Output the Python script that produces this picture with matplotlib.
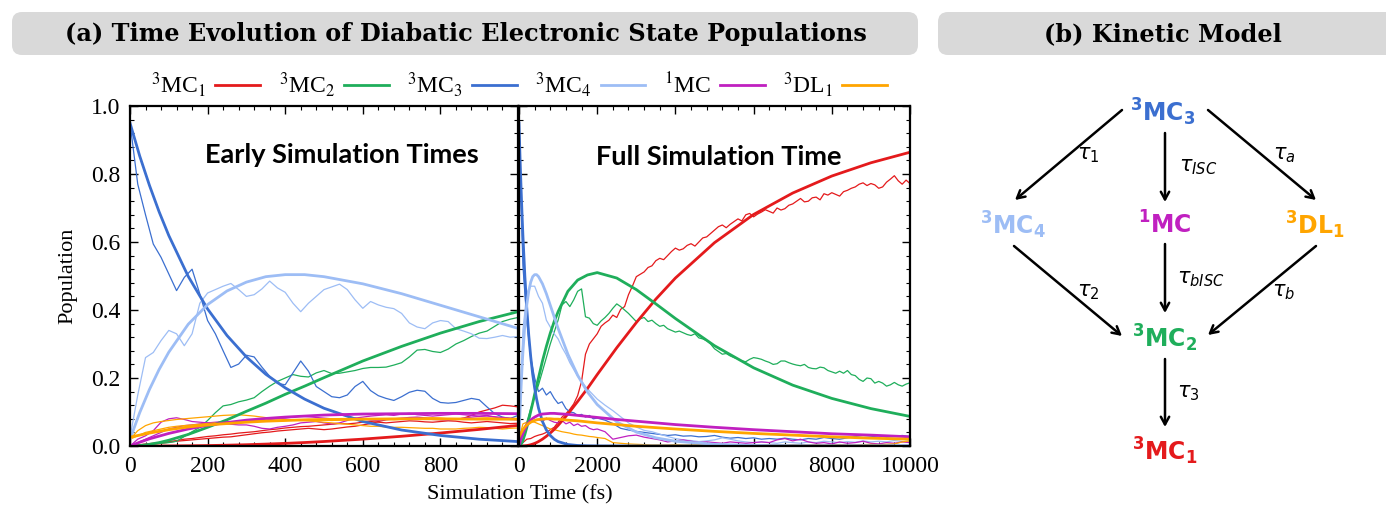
import numpy as np
import matplotlib
matplotlib.use("Agg")
import matplotlib.pyplot as plt
from matplotlib.lines import Line2D
from matplotlib.patches import FancyBboxPatch
from matplotlib.ticker import MultipleLocator, FormatStrFormatter

plt.rcParams['font.family'] = 'serif'
plt.rcParams['font.serif'] = ['Liberation Serif', 'DejaVu Serif']
plt.rcParams['mathtext.fontset'] = 'stix'

# state names and colours
states = ['3MC1', '3MC2', '3MC3', '3MC4', '1MC', '3DL1']
legend_labels = [r'$^{3}$MC$_{1}$', r'$^{3}$MC$_{2}$', r'$^{3}$MC$_{3}$',
                 r'$^{3}$MC$_{4}$', r'$^{1}$MC', r'$^{3}$DL$_{1}$']
colors = {'3MC1': '#e41a1c', '3MC2': '#1fae5b', '3MC3': '#3b6fd0',
          '3MC4': '#9dbdf5', '1MC': '#c020c0', '3DL1': '#ffa500'}

# kinetic model fit (fs)
t_fit = [0, 25, 50, 75, 100, 150, 200, 250, 300, 350, 400, 450, 500, 600, 700, 800,
         900, 1000, 1250, 1500, 1750, 2000, 2500, 3000, 3500, 4000, 5000, 6000,
         7000, 8000, 9000, 10000]
fit_3mc1 = [0, 0, 0, 0, 0.0002, 0.0006, 0.0013, 0.0024, 0.0038, 0.0056, 0.0077, 0.0102,
            0.0132, 0.0202, 0.0286, 0.0382, 0.0488, 0.0606, 0.094, 0.131, 0.169, 0.210,
            0.289, 0.363, 0.432, 0.494, 0.598, 0.681, 0.744, 0.794, 0.833, 0.864]
fit_3mc2 = [0.0, 0.001, 0.005, 0.010, 0.017, 0.034, 0.055, 0.077, 0.102, 0.126, 0.152,
            0.176, 0.201, 0.250, 0.293, 0.332, 0.366, 0.395, 0.455, 0.488, 0.503, 0.510,
            0.494, 0.460, 0.418, 0.375, 0.295, 0.230, 0.179, 0.140, 0.110, 0.087]
fit_3mc3 = [0.950, 0.853, 0.767, 0.689, 0.619, 0.499, 0.403, 0.325, 0.262, 0.211, 0.171,
            0.138, 0.111, 0.072, 0.047, 0.031, 0.020, 0.013, 0.0044, 0.0015, 0.0005,
            0.0002, 0, 0, 0, 0, 0, 0, 0, 0, 0, 0]
fit_3mc4 = [0.020, 0.098, 0.166, 0.225, 0.276, 0.358, 0.416, 0.456, 0.482, 0.498, 0.504,
            0.504, 0.498, 0.477, 0.448, 0.414, 0.380, 0.346, 0.270, 0.208, 0.159, 0.122,
            0.071, 0.041, 0.024, 0.014, 0.005, 0.0015, 0.0005, 0, 0, 0]
fit_1mc = [0.0, 0.011, 0.021, 0.029, 0.037, 0.050, 0.061, 0.069, 0.076, 0.081, 0.085,
           0.088, 0.091, 0.094, 0.095, 0.096, 0.096, 0.095, 0.093, 0.090, 0.087, 0.084,
           0.078, 0.073, 0.068, 0.063, 0.055, 0.048, 0.042, 0.036, 0.032, 0.027]
fit_3dl1 = [0.026, 0.032, 0.038, 0.043, 0.048, 0.056, 0.062, 0.066, 0.070, 0.073, 0.075,
            0.077, 0.078, 0.079, 0.080, 0.080, 0.079, 0.079, 0.076, 0.074, 0.071, 0.068,
            0.063, 0.058, 0.054, 0.050, 0.043, 0.037, 0.032, 0.027, 0.023, 0.020]

# early simulation, populations every 20 fs (two runs for the minor states)
t_early = list(range(0, 1001, 20))
early_3mc1 = [0, 0.002, 0.004, 0.006, 0.008, 0.011, 0.014, 0.016, 0.018, 0.02, 0.022,
              0.024, 0.026, 0.027, 0.03, 0.033, 0.036, 0.039, 0.041, 0.044, 0.046,
              0.048, 0.05, 0.052, 0.05, 0.048, 0.05, 0.053, 0.056, 0.058, 0.062,
              0.066, 0.072, 0.077, 0.079, 0.08, 0.081, 0.082, 0.08, 0.078, 0.077,
              0.077, 0.078, 0.082, 0.09, 0.1, 0.106, 0.112, 0.12, 0.118, 0.115]
early_3mc1_b = [0, 0.003, 0.006, 0.008, 0.01, 0.013, 0.016, 0.02, 0.022, 0.025, 0.028,
                0.03, 0.033, 0.035, 0.038, 0.04, 0.042, 0.045, 0.048, 0.05, 0.053, 0.055,
                0.057, 0.058, 0.06, 0.062, 0.064, 0.066, 0.065, 0.067, 0.07, 0.072, 0.07,
                0.068, 0.07, 0.072, 0.074, 0.073, 0.071, 0.07, 0.072, 0.074, 0.073, 0.07,
                0.068, 0.07, 0.072, 0.07, 0.068, 0.066, 0.067]
early_3mc2 = [0, 0.002, 0.004, 0.006, 0.008, 0.01, 0.014, 0.028, 0.042, 0.055, 0.075,
              0.098, 0.118, 0.122, 0.13, 0.135, 0.142, 0.16, 0.176, 0.19, 0.2, 0.21, 0.205,
              0.203, 0.215, 0.222, 0.213, 0.214, 0.218, 0.222, 0.228, 0.231, 0.231, 0.232,
              0.238, 0.245, 0.262, 0.282, 0.284, 0.278, 0.275, 0.285, 0.3, 0.31, 0.322,
              0.332, 0.338, 0.352, 0.366, 0.373, 0.378]
early_3mc3 = [0.95, 0.77, 0.68, 0.594, 0.555, 0.506, 0.457, 0.496, 0.52, 0.447, 0.369,
              0.33, 0.28, 0.231, 0.241, 0.267, 0.262, 0.232, 0.205, 0.184, 0.18, 0.215,
              0.25, 0.22, 0.175, 0.16, 0.145, 0.142, 0.15, 0.175, 0.19, 0.163, 0.148, 0.14,
              0.134, 0.145, 0.158, 0.164, 0.161, 0.14, 0.128, 0.126, 0.128, 0.134, 0.14,
              0.136, 0.115, 0.095, 0.085, 0.081, 0.09]
early_3mc4 = [0.025, 0.15, 0.26, 0.275, 0.31, 0.34, 0.33, 0.295, 0.33, 0.42, 0.45, 0.46,
              0.47, 0.478, 0.46, 0.44, 0.445, 0.462, 0.485, 0.465, 0.452, 0.42, 0.395,
              0.42, 0.44, 0.46, 0.468, 0.476, 0.46, 0.43, 0.405, 0.425, 0.415, 0.408,
              0.404, 0.39, 0.362, 0.35, 0.345, 0.362, 0.369, 0.366, 0.345, 0.338, 0.33,
              0.317, 0.316, 0.32, 0.325, 0.32, 0.322]
early_1mc = [0.0, 0.02, 0.03, 0.045, 0.07, 0.08, 0.083, 0.078, 0.072, 0.07, 0.068, 0.067,
             0.066, 0.064, 0.062, 0.062, 0.058, 0.052, 0.05, 0.055, 0.058, 0.062, 0.068,
             0.07, 0.072, 0.068, 0.065, 0.068, 0.075, 0.082, 0.085, 0.088, 0.09, 0.092,
             0.09, 0.094, 0.096, 0.092, 0.09, 0.088, 0.09, 0.092, 0.094, 0.092, 0.09,
             0.088, 0.09, 0.085, 0.08, 0.078, 0.077]
early_1mc_b = [0, 0.01, 0.02, 0.03, 0.04, 0.05, 0.055, 0.06, 0.062, 0.065, 0.068, 0.07,
               0.072, 0.07, 0.068, 0.07, 0.072, 0.075, 0.078, 0.08, 0.082, 0.085, 0.088,
               0.086, 0.084, 0.082, 0.08, 0.078, 0.08, 0.082, 0.079, 0.076, 0.075, 0.078,
               0.08, 0.082, 0.084, 0.085, 0.083, 0.08, 0.078, 0.077, 0.079, 0.082, 0.085,
               0.087, 0.088, 0.086, 0.084, 0.082, 0.08]
early_3dl1 = [0.02, 0.045, 0.06, 0.068, 0.072, 0.075, 0.078, 0.08, 0.082, 0.084, 0.086,
              0.088, 0.09, 0.091, 0.092, 0.09, 0.088, 0.085, 0.082, 0.08, 0.078, 0.076,
              0.075, 0.074, 0.072, 0.07, 0.068, 0.066, 0.064, 0.062, 0.06, 0.058, 0.058,
              0.056, 0.055, 0.055, 0.054, 0.053, 0.052, 0.052, 0.05, 0.05, 0.05, 0.052,
              0.053, 0.055, 0.054, 0.052, 0.05, 0.052, 0.053]
early_3dl1_b = [0.02, 0.03, 0.04, 0.045, 0.05, 0.055, 0.058, 0.06, 0.062, 0.064, 0.066,
                0.068, 0.07, 0.071, 0.072, 0.074, 0.075, 0.076, 0.075, 0.074, 0.075, 0.076,
                0.077, 0.078, 0.077, 0.076, 0.075, 0.076, 0.077, 0.078, 0.079, 0.08, 0.079,
                0.078, 0.077, 0.078, 0.079, 0.08, 0.082, 0.083, 0.082, 0.08, 0.079, 0.078,
                0.08, 0.082, 0.083, 0.082, 0.08, 0.079, 0.078]

# full simulation, 3MC1 and 3MC2 every 100 fs
t_fine = list(range(0, 10001, 100))
full_3mc1 = [0, 0.01, 0.02, 0.022, 0.028, 0.032, 0.035, 0.04, 0.048, 0.055, 0.07, 0.085,
             0.095, 0.108, 0.124, 0.148, 0.19, 0.27, 0.3, 0.315, 0.33,
             0.352, 0.362, 0.37, 0.385, 0.378, 0.402, 0.41, 0.445, 0.47, 0.498,
             0.505, 0.512, 0.525, 0.53, 0.545, 0.552, 0.548, 0.56, 0.572, 0.582,
             0.576, 0.58, 0.59, 0.595, 0.588, 0.6, 0.612, 0.615, 0.625, 0.635,
             0.645, 0.65, 0.642, 0.652, 0.66, 0.668, 0.662, 0.68, 0.684, 0.674,
             0.682, 0.688, 0.695, 0.69, 0.685, 0.7, 0.694, 0.698, 0.708, 0.712,
             0.72, 0.728, 0.718, 0.72, 0.73, 0.732, 0.724, 0.742, 0.738, 0.745,
             0.74, 0.735, 0.748, 0.752, 0.758, 0.762, 0.77, 0.774, 0.766, 0.772,
             0.768, 0.758, 0.762, 0.776, 0.785, 0.795, 0.78, 0.77, 0.782, 0.772]
full_3mc2 = [0, 0.01, 0.07, 0.11, 0.145, 0.18, 0.22, 0.26, 0.3, 0.335, 0.37, 0.415, 0.425,
             0.41, 0.43, 0.455, 0.462, 0.38, 0.376, 0.36, 0.355,
             0.368, 0.378, 0.39, 0.405, 0.418, 0.41, 0.4, 0.39, 0.378, 0.366,
             0.374, 0.378, 0.366, 0.37, 0.36, 0.352, 0.355, 0.345, 0.34, 0.335,
             0.338, 0.333, 0.328, 0.325, 0.33, 0.318, 0.315, 0.31, 0.3, 0.286,
             0.278, 0.27, 0.272, 0.265, 0.26, 0.256, 0.25, 0.248, 0.255, 0.26,
             0.258, 0.255, 0.25, 0.246, 0.24, 0.242, 0.25, 0.25, 0.245, 0.241,
             0.238, 0.236, 0.24, 0.231, 0.228, 0.227, 0.232, 0.23, 0.222, 0.218,
             0.214, 0.22, 0.214, 0.222, 0.21, 0.207, 0.196, 0.19, 0.2, 0.198,
             0.185, 0.19, 0.185, 0.176, 0.18, 0.187, 0.18, 0.176, 0.182, 0.186]

# full simulation, remaining states: 100 fs steps up to 2 ps, then 200 fs steps
t_full = list(range(0, 2001, 100)) + list(range(2200, 10001, 200))
full_3mc3 = [0.95, 0.53, 0.37, 0.26, 0.2, 0.16, 0.17, 0.15, 0.16, 0.14, 0.125, 0.13, 0.11,
             0.1, 0.098, 0.09, 0.093, 0.085, 0.09, 0.08, 0.082,
             0.076, 0.066, 0.052, 0.047, 0.043, 0.04, 0.037, 0.034, 0.031, 0.033,
             0.029, 0.03, 0.027, 0.028, 0.031, 0.026, 0.023, 0.025, 0.022, 0.024,
             0.02, 0.022, 0.02, 0.023, 0.02, 0.018, 0.022, 0.02, 0.025, 0.022,
             0.02, 0.024, 0.028, 0.025, 0.027, 0.03, 0.026, 0.028, 0.031, 0.028]
full_3mc4 = [0.025, 0.34, 0.45, 0.47, 0.47, 0.44, 0.42, 0.37, 0.35, 0.33, 0.315, 0.29,
             0.27, 0.245, 0.225, 0.205, 0.19, 0.175, 0.162, 0.15, 0.138,
             0.12, 0.104, 0.086, 0.068, 0.056, 0.046, 0.042, 0.035, 0.028, 0.022,
             0.018, 0.016, 0.013, 0.015, 0.018, 0.024, 0.02, 0.015, 0.012, 0.01,
             0.012, 0.01, 0.008, 0.012, 0.01, 0.008, 0.012, 0.01, 0.014, 0.012,
             0.01, 0.013, 0.011, 0.015, 0.012, 0.014, 0.012, 0.016, 0.013, 0.015]
full_1mc = [0.0, 0.045, 0.07, 0.072, 0.075, 0.078, 0.072, 0.082, 0.075, 0.07, 0.068,
            0.075, 0.065, 0.07, 0.06, 0.065, 0.058, 0.06, 0.052, 0.048, 0.05,
            0.042, 0.02, 0.025, 0.03, 0.032, 0.026, 0.022, 0.018, 0.012, 0.015,
            0.018, 0.014, 0.01, 0.012, 0.01, 0.008, 0.012, 0.01, 0.008, 0.01,
            0.012, 0.01, 0.018, 0.022, 0.015, 0.02, 0.012, 0.008, 0.01, 0.006,
            0.012, 0.008, 0.01, 0.014, 0.008, 0.006, 0.01, 0.008, 0.012, 0.01]
full_3dl1 = [0.02, 0.065, 0.07, 0.072, 0.07, 0.065, 0.06, 0.055, 0.05, 0.048, 0.045,
             0.042, 0.04, 0.038, 0.035, 0.033, 0.032, 0.03, 0.028, 0.027, 0.025,
             0.022, 0.01, 0.008, 0.006, 0.005, 0.004, 0.003, 0.003, 0.003, 0.004,
             0.003, 0.003, 0.004, 0.003, 0.003, 0.004, 0.003, 0.003, 0.004, 0.003,
             0.003, 0.004, 0.003, 0.003, 0.004, 0.003, 0.003, 0.004, 0.003, 0.003,
             0.004, 0.003, 0.003, 0.004, 0.005, 0.004, 0.005, 0.006, 0.012, 0.015]

fits = [fit_3mc1, fit_3mc2, fit_3mc3, fit_3mc4, fit_1mc, fit_3dl1]
early = [[early_3mc1, early_3mc1_b], [early_3mc2], [early_3mc3], [early_3mc4],
         [early_1mc, early_1mc_b], [early_3dl1, early_3dl1_b]]
full = [(t_fine, full_3mc1), (t_fine, full_3mc2), (t_full, full_3mc3),
        (t_full, full_3mc4), (t_full, full_1mc), (t_full, full_3dl1)]

W, H = 1386, 508
fig = plt.figure(figsize=(W / 100, H / 100), dpi=100)

# background layer in pixel coordinates: header boxes and kinetic scheme
bg = fig.add_axes([0, 0, 1, 1])
bg.set_xlim(0, W)
bg.set_ylim(H, 0)
bg.axis('off')

headers = [(12, 906, 466, '(a) Time Evolution of Diabatic Electronic State Populations'),
           (938, 470, 1163, '(b) Kinetic Model')]
for x0, width, cx, txt in headers:
    bg.add_patch(FancyBboxPatch((x0, 12), width, 43, boxstyle='round,pad=0,rounding_size=10',
                                fc='#d9d9d9', ec='none'))
    bg.text(cx, 34, txt, ha='center', va='center', fontsize=17.3, fontweight='bold',
            family='DejaVu Serif')


def make_panel(x0, width, xmax, major, minor):
    ax = fig.add_axes([x0 / W, 62 / H, width / W, 340 / H])
    ax.set_xlim(0, xmax)
    ax.set_ylim(0, 1.0)
    ax.xaxis.set_major_locator(MultipleLocator(major))
    ax.xaxis.set_minor_locator(MultipleLocator(minor))
    ax.yaxis.set_major_locator(MultipleLocator(0.2))
    ax.yaxis.set_minor_locator(MultipleLocator(0.04))
    ax.tick_params(which='both', direction='in', top=True, right=True, labelsize=17)
    ax.tick_params(which='major', length=6, width=1, pad=7)
    ax.tick_params(which='minor', length=3, width=0.8)
    for s in ax.spines.values():
        s.set_linewidth(1.6)
    return ax


axL = make_panel(130, 388, 1000, 200, 40)
axR = make_panel(519, 391, 10000, 2000, 400)

axL.yaxis.set_major_formatter(FormatStrFormatter('%.1f'))
axL.set_xticks([0, 200, 400, 600, 800, 1000])
axL.set_xticklabels(['0', '200', '400', '600', '800', ''])
axL.set_ylabel('Population', fontsize=16, labelpad=10)
axR.tick_params(labelleft=False)

for st, runs, (tf, u) in zip(states, early, full):
    c = colors[st]
    for e in runs:
        axL.plot(t_early, e, color=c, lw=0.9)
    axR.plot(tf, u, color=c, lw=0.9)
for st, f in zip(states, fits):
    c = colors[st]
    axL.plot(t_fit, f, color=c, lw=2.0)
    axR.plot(t_fit, f, color=c, lw=2.0)

axL.text(0.546, 0.856, 'Early Simulation Times', transform=axL.transAxes, ha='center',
         va='center', fontsize=19.5, fontweight='bold', family='Lato')
axR.text(0.511, 0.85, 'Full Simulation Time', transform=axR.transAxes, ha='center',
         va='center', fontsize=19.5, fontweight='bold', family='Lato')

fig.text(520 / W, 1 - 495 / H, 'Simulation Time (fs)', ha='center', va='center', fontsize=16)

handles = [Line2D([], [], color=colors[s], lw=2) for s in states]
fig.legend(handles, legend_labels, loc='center', bbox_to_anchor=(519 / W, 1 - 85 / H),
           ncol=6, frameon=False, markerfirst=False, fontsize=17, handlelength=1.9,
           handletextpad=0.35, columnspacing=0.8)

# kinetic scheme
nodes = {
    '3MC3': (1163, 112, r'$^{\mathbf{3}}\mathbf{MC}_{\mathbf{3}}$'),
    '3MC4': (1013, 225, r'$^{\mathbf{3}}\mathbf{MC}_{\mathbf{4}}$'),
    '1MC': (1165, 225, r'$^{\mathbf{1}}\mathbf{MC}$'),
    '3DL1': (1315, 225, r'$^{\mathbf{3}}\mathbf{DL}_{\mathbf{1}}$'),
    '3MC2': (1165, 338, r'$^{\mathbf{3}}\mathbf{MC}_{\mathbf{2}}$'),
    '3MC1': (1165, 451, r'$^{\mathbf{3}}\mathbf{MC}_{\mathbf{1}}$'),
}
for key, (x, y, lab) in nodes.items():
    bg.text(x, y, lab, color=colors[key], fontsize=17, ha='center', va='center',
            math_fontfamily='dejavusans')

arrows = [((1122, 110), (1015, 200)), ((1165, 133), (1165, 202)),
          ((1208, 110), (1316, 200)), ((1014, 246), (1122, 336)),
          ((1165, 244), (1165, 313)), ((1316, 246), (1208, 335)),
          ((1165, 359), (1165, 427))]
for start, end in arrows:
    bg.annotate('', xy=end, xytext=start,
                arrowprops=dict(arrowstyle='->,head_length=0.55,head_width=0.3', lw=1.8,
                                color='k', shrinkA=0, shrinkB=0))

rates = [(1088, 155, r'$\tau_1$'), (1198, 167, r'$\tau_{ISC}$'), (1284, 155, r'$\tau_a$'),
         (1088, 292, r'$\tau_2$'), (1201, 279, r'$\tau_{bISC}$'), (1284, 292, r'$\tau_b$'),
         (1188, 393, r'$\tau_3$')]
for x, y, lab in rates:
    bg.text(x, y, lab, fontsize=15, ha='center', va='center', math_fontfamily='dejavusans')

fig.savefig('out.png', dpi=100)
